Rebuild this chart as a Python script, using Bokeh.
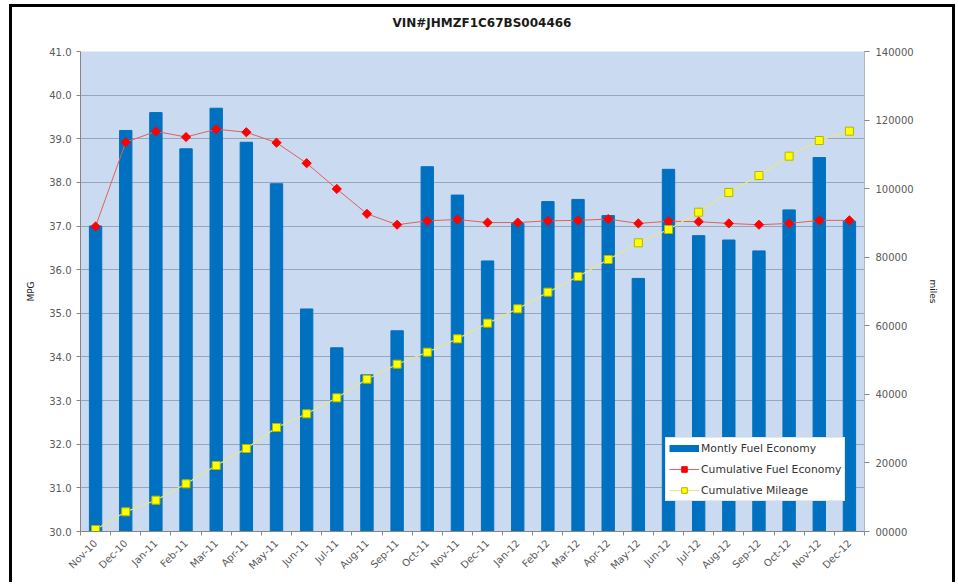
from math import pi
from bokeh.plotting import figure
from bokeh.models import (Range1d, LinearAxis, FixedTicker, NumeralTickFormatter,
                          Legend, LegendItem, ColumnDataSource, Title)
from bokeh.embed import file_html
from bokeh.resources import INLINE

months = ["Nov-10", "Dec-10", "Jan-11", "Feb-11", "Mar-11", "Apr-11", "May-11",
          "Jun-11", "Jul-11", "Aug-11", "Sep-11", "Oct-11", "Nov-11", "Dec-11",
          "Jan-12", "Feb-12", "Mar-12", "Apr-12", "May-12", "Jun-12", "Jul-12",
          "Aug-12", "Sep-12", "Oct-12", "Nov-12", "Dec-12"]
monthly_mpg = [37.0, 39.19, 39.6, 38.77, 39.7, 38.92, 37.97, 35.1, 34.21, 33.59,
               34.6, 38.36, 37.71, 36.2, 37.06, 37.56, 37.61, 37.24, 35.8, 38.3,
               36.78, 36.68, 36.43, 37.37, 38.57, 37.11]
cumulative_mpg = [36.99, 38.92, 39.17, 39.04, 39.22, 39.15, 38.91, 38.44, 37.85,
                  37.28, 37.03, 37.12, 37.15, 37.08, 37.08, 37.12, 37.13, 37.16,
                  37.06, 37.11, 37.1, 37.06, 37.03, 37.06, 37.13, 37.13]
cumulative_miles = [580, 5740, 9130, 13900, 19250, 24210, 30330, 34330, 38990,
                    44420, 48800, 52300, 56200, 60760, 64950, 69800, 74380, 79330,
                    84200, 88080, 93130, 98880, 103830, 109470, 114040, 116760]
mpg_ticks = list(range(30, 42))
mile_ticks = list(range(0, 140001, 20000))

title_text = "VIN#JHMZF1C67BS004466"
FONT = "DejaVu Sans"
AXIS_COL = "#868686"
LABEL_COL = "#595959"

idx = list(range(len(months)))
src = ColumnDataSource(dict(x=idx, month=months, mpg=monthly_mpg,
                            cum=cumulative_mpg, miles=cumulative_miles))

p = figure(width=946, height=578, output_backend="svg", toolbar_location=None,
           x_range=Range1d(-0.5, len(months) - 0.5), y_range=Range1d(30, 41),
           min_border_left=68, min_border_right=94, min_border_top=44,
           min_border_bottom=54, background_fill_color="#C9DAF1",
           border_fill_color="white", outline_line_color=None)
p.styles = {"margin-left": "9px", "margin-top": "4px",
            "border-top": "3px solid black", "border-left": "3px solid black",
            "border-right": "3px solid black"}

p.extra_y_ranges = {"miles": Range1d(0, 140000)}

# trailing newline gives the title a second (empty) line, lifting it higher
t = Title(text=title_text + "\n", align="left", vertical_align="top", text_font=FONT,
          text_font_size="12px", text_font_style="bold", text_color="#1a1a1a",
          offset=312, standoff=12)
p.add_layout(t, "above")

bars = p.vbar(x="x", top="mpg", bottom=30, width=0.41, source=src,
              fill_color="#0070C0", line_color="#0070C0")
cum_line = p.line(x="x", y="cum", source=src, line_color="#E0605A", line_width=1)
cum_pts = p.scatter(x="x", y="cum", source=src, marker="square", angle=pi / 4,
                    size=6.5, fill_color="#FF0000", line_color="#FF0000")
mil_line = p.line(x="x", y="miles", source=src, y_range_name="miles",
                  line_color="#E6E88A", line_width=1.2)
mil_pts = p.scatter(x="x", y="miles", source=src, y_range_name="miles",
                    marker="square", size=8, fill_color="#FFFF00",
                    line_color="#B5B500", line_width=1)

# legend-only swatch for the bars (one NaN point: nothing drawn in the plot)
swatch_src = ColumnDataSource(dict(x=[0], y=[float("nan")]))
bar_swatch = p.line(x="x", y="y", source=swatch_src, line_color="#0070C0", line_width=7)

# axes styling
p.xgrid.visible = False
p.ygrid.grid_line_color = "#98A6B8"
p.ygrid.grid_line_width = 1
p.ygrid.ticker = FixedTicker(ticks=mpg_ticks)

xa = p.xaxis[0]
xa.ticker = FixedTicker(ticks=idx, minor_ticks=[i - 0.5 for i in range(len(months) + 1)])
xa.major_label_overrides = {i: m for i, m in enumerate(months)}
xa.major_label_orientation = pi / 4
xa.major_tick_line_color = None
xa.minor_tick_line_color = AXIS_COL
xa.minor_tick_in = 0
xa.minor_tick_out = 4
xa.axis_line_color = AXIS_COL
xa.major_label_text_font = FONT
xa.major_label_text_font_size = "10px"
xa.major_label_text_color = LABEL_COL
xa.major_label_standoff = 4

ya = p.yaxis[0]
ya.ticker = FixedTicker(ticks=mpg_ticks)
ya.formatter = NumeralTickFormatter(format="0.0")
ya.axis_label = "MPG"
ya.axis_label_text_font = FONT
ya.axis_label_text_font_size = "9px"
ya.axis_label_text_font_style = "normal"
ya.axis_label_text_color = "#1a1a1a"
ya.axis_label_standoff = 10
ya.axis_line_color = AXIS_COL
ya.major_tick_line_color = AXIS_COL
ya.major_tick_in = 0
ya.major_tick_out = 4
ya.minor_tick_line_color = None
ya.major_label_text_font = FONT
ya.major_label_text_font_size = "10px"
ya.major_label_text_color = LABEL_COL
ya.major_label_standoff = 5

ra = LinearAxis(y_range_name="miles", ticker=FixedTicker(ticks=mile_ticks),
                formatter=NumeralTickFormatter(format="0"))
ra.major_label_overrides = {0: "00000"}
ra.axis_label = "miles"
ra.axis_label_text_font = FONT
ra.axis_label_text_font_size = "9px"
ra.axis_label_text_font_style = "normal"
ra.axis_label_text_color = "#1a1a1a"
ra.axis_label_standoff = 11
ra.axis_line_color = "#B0B8C4"
ra.major_tick_line_color = AXIS_COL
ra.major_tick_in = 0
ra.major_tick_out = 5
ra.minor_tick_line_color = None
ra.major_label_text_font = FONT
ra.major_label_text_font_size = "10px"
ra.major_label_text_color = LABEL_COL
ra.major_label_standoff = 6
p.add_layout(ra, "right")

legend = Legend(items=[
    LegendItem(label="Montly Fuel Economy", renderers=[bar_swatch]),
    LegendItem(label="Cumulative Fuel Economy", renderers=[cum_line, cum_pts]),
    LegendItem(label="Cumulative Mileage", renderers=[mil_line, mil_pts]),
], location=(585, 30), orientation="vertical")
legend.background_fill_color = "white"
legend.background_fill_alpha = 1
legend.border_line_color = "#D0D0D0"
legend.padding = 3
legend.margin = 0
legend.spacing = 7
legend.glyph_width = 30
legend.glyph_height = 14
legend.label_height = 14
legend.label_standoff = 2
legend.label_text_font = FONT
legend.label_text_font_size = "10.8px"
legend.label_text_color = "#333333"
p.add_layout(legend, "center")

open("out.html", "w").write(file_html(p, INLINE))
